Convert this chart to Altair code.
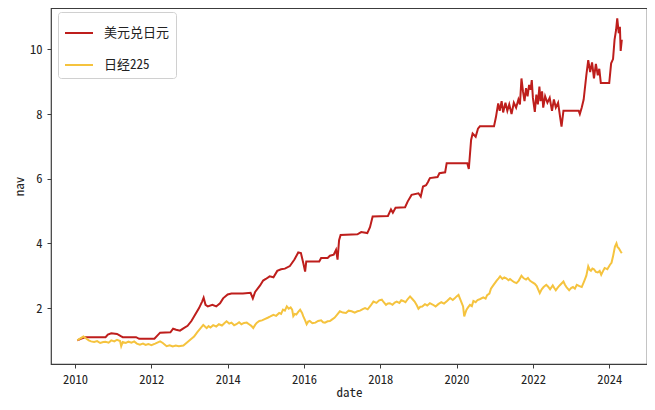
import altair as alt
import pandas as pd

series_names = ["美元兑日元", "日经225"]
colors = ["#BE1E1C", "#F5C33E"]

red_dates = [2010.06, 2010.15, 2010.28, 2010.80, 2010.86, 2010.95, 2011.10, 2011.20, 2011.25, 2011.60,
             2011.68, 2012.08, 2012.15, 2012.23, 2012.50, 2012.57, 2012.65, 2012.75, 2012.85, 2012.95,
             2013.05, 2013.15, 2013.25, 2013.33, 2013.37, 2013.42, 2013.48, 2013.60, 2013.70, 2013.80,
             2013.88, 2014.00, 2014.10, 2014.40, 2014.60, 2014.66, 2014.72, 2014.85, 2014.93, 2015.00,
             2015.10, 2015.20, 2015.30, 2015.40, 2015.50, 2015.63, 2015.75, 2015.85, 2015.92, 2015.98,
             2016.03, 2016.06, 2016.40, 2016.45, 2016.62, 2016.68, 2016.78, 2016.84, 2016.88, 2016.92,
             2016.96, 2017.40, 2017.50, 2017.66, 2017.73, 2017.80, 2018.20, 2018.28, 2018.33, 2018.40,
             2018.65, 2018.72, 2018.82, 2019.00, 2019.06, 2019.12, 2019.20, 2019.25, 2019.30, 2019.50,
             2019.55, 2019.70, 2019.74, 2020.28, 2020.32, 2020.38, 2020.42, 2020.50, 2020.56, 2020.61,
             2020.98, 2021.03, 2021.09, 2021.13, 2021.18, 2021.22, 2021.28, 2021.33, 2021.38, 2021.44,
             2021.50, 2021.56, 2021.62, 2021.66, 2021.70, 2021.74, 2021.78, 2021.82, 2021.86, 2021.90,
             2021.94, 2021.97, 2022.00, 2022.05, 2022.09, 2022.13, 2022.17, 2022.20, 2022.24, 2022.27,
             2022.32, 2022.38, 2022.44, 2022.50, 2022.55, 2022.60, 2022.66, 2022.72, 2022.75, 2022.80,
             2023.20, 2023.23, 2023.28, 2023.33, 2023.40, 2023.45, 2023.50, 2023.55, 2023.60, 2023.65,
             2023.70, 2023.74, 2023.78, 2024.00, 2024.05, 2024.10, 2024.14, 2024.18, 2024.21, 2024.25,
             2024.28, 2024.30, 2024.33]
red_values = [1.00, 1.05, 1.10, 1.10, 1.18, 1.22, 1.20, 1.13, 1.10, 1.10,
              1.05, 1.05, 1.14, 1.24, 1.25, 1.36, 1.33, 1.30, 1.38, 1.45,
              1.60, 1.80, 2.00, 2.20, 2.32, 2.10, 2.05, 2.10, 2.05, 2.15,
              2.30, 2.42, 2.45, 2.45, 2.47, 2.30, 2.50, 2.70, 2.85, 2.90,
              2.98, 2.95, 3.15, 3.20, 3.22, 3.30, 3.50, 3.72, 3.70, 3.40,
              3.13, 3.44, 3.44, 3.55, 3.55, 3.62, 3.65, 3.80, 3.50, 4.10,
              4.26, 4.28, 4.35, 4.32, 4.50, 4.83, 4.85, 5.05, 4.95, 5.10,
              5.12, 5.30, 5.50, 5.55, 5.45, 5.76, 5.80, 5.90, 6.02, 6.05,
              6.17, 6.20, 6.48, 6.48, 6.30, 7.20, 7.40, 7.30, 7.55, 7.62,
              7.62, 7.90, 8.33, 8.10, 8.40, 8.05, 8.35, 8.10, 8.30, 8.00,
              8.35, 8.20, 8.45, 8.30, 9.10, 8.70, 8.40, 8.80, 8.55, 8.90,
              8.75, 9.05, 8.50, 8.07, 8.60, 8.30, 8.85, 8.40, 8.70, 8.20,
              8.55, 8.35, 8.50, 8.10, 8.45, 8.20, 8.35, 7.85, 7.61, 8.10,
              8.10, 8.00, 8.20, 8.45, 9.20, 9.67, 9.30, 9.60, 9.10, 9.55,
              9.20, 9.40, 8.96, 8.96, 9.57, 9.70, 10.30, 10.60, 10.96, 10.50,
              10.70, 9.95, 10.30]

yellow_dates = [2010.06, 2010.12, 2010.22, 2010.30, 2010.36, 2010.42, 2010.50, 2010.58, 2010.66, 2010.74,
                2010.80, 2010.88, 2010.95, 2011.03, 2011.10, 2011.18, 2011.21, 2011.25, 2011.33, 2011.40,
                2011.48, 2011.55, 2011.62, 2011.70, 2011.78, 2011.85, 2011.92, 2012.00, 2012.10, 2012.23,
                2012.30, 2012.40, 2012.48, 2012.56, 2012.64, 2012.72, 2012.84, 2012.95, 2013.05, 2013.12,
                2013.20, 2013.27, 2013.36, 2013.41, 2013.45, 2013.50, 2013.55, 2013.62, 2013.70, 2013.77,
                2013.85, 2013.92, 2013.97, 2014.04, 2014.10, 2014.17, 2014.23, 2014.30, 2014.36, 2014.43,
                2014.50, 2014.56, 2014.62, 2014.67, 2014.72, 2014.76, 2014.83, 2014.90, 2014.97, 2015.05,
                2015.12, 2015.20, 2015.27, 2015.35, 2015.40, 2015.45, 2015.50, 2015.55, 2015.60, 2015.65,
                2015.69, 2015.72, 2015.76, 2015.80, 2015.85, 2015.90, 2015.95, 2015.98, 2016.03, 2016.07,
                2016.11, 2016.15, 2016.22, 2016.30, 2016.37, 2016.45, 2016.50, 2016.55, 2016.62, 2016.68,
                2016.74, 2016.80, 2016.87, 2016.94, 2017.02, 2017.10, 2017.17, 2017.25, 2017.33, 2017.40,
                2017.47, 2017.54, 2017.60, 2017.67, 2017.75, 2017.82, 2017.90, 2017.97, 2018.04, 2018.09,
                2018.15, 2018.20, 2018.25, 2018.32, 2018.38, 2018.43, 2018.50, 2018.55, 2018.60, 2018.66,
                2018.72, 2018.78, 2018.84, 2018.90, 2018.96, 2019.00, 2019.05, 2019.10, 2019.17, 2019.23,
                2019.30, 2019.37, 2019.45, 2019.52, 2019.60, 2019.67, 2019.75, 2019.83, 2019.90, 2019.95,
                2020.00, 2020.05, 2020.12, 2020.17, 2020.20, 2020.23, 2020.26, 2020.30, 2020.35, 2020.40,
                2020.44, 2020.50, 2020.55, 2020.62, 2020.70, 2020.76, 2020.80, 2020.86, 2020.90, 2020.96,
                2021.05, 2021.10, 2021.14, 2021.20, 2021.25, 2021.30, 2021.36, 2021.40, 2021.45, 2021.51,
                2021.57, 2021.63, 2021.70, 2021.76, 2021.82, 2021.87, 2021.92, 2021.98, 2022.05, 2022.10,
                2022.18, 2022.23, 2022.28, 2022.35, 2022.40, 2022.45, 2022.52, 2022.56, 2022.60, 2022.65,
                2022.70, 2022.75, 2022.80, 2022.84, 2022.88, 2022.95, 2023.00, 2023.05, 2023.10, 2023.15,
                2023.22, 2023.28, 2023.35, 2023.40, 2023.45, 2023.49, 2023.52, 2023.56, 2023.60, 2023.65,
                2023.70, 2023.75, 2023.79, 2023.84, 2023.88, 2023.95, 2024.02, 2024.06, 2024.10, 2024.15,
                2024.19, 2024.22, 2024.25, 2024.30, 2024.33]
yellow_values = [1.00, 1.05, 1.12, 1.05, 1.00, 0.97, 0.95, 0.98, 0.92, 0.95,
                 0.96, 0.93, 1.00, 0.97, 1.02, 0.98, 0.82, 0.95, 0.92, 0.96,
                 0.93, 0.97, 0.90, 0.87, 0.90, 0.86, 0.89, 0.85, 0.90, 0.97,
                 0.92, 0.82, 0.85, 0.81, 0.84, 0.82, 0.84, 0.95, 1.05, 1.12,
                 1.25, 1.35, 1.48, 1.42, 1.38, 1.44, 1.40, 1.47, 1.43, 1.50,
                 1.46, 1.54, 1.59, 1.52, 1.55, 1.47, 1.50, 1.56, 1.50, 1.54,
                 1.55, 1.50, 1.45, 1.38, 1.48, 1.54, 1.60, 1.62, 1.66, 1.70,
                 1.74, 1.79, 1.76, 1.85, 1.82, 1.95, 1.92, 2.05, 1.98, 2.02,
                 1.95, 1.75, 1.82, 1.80, 1.88, 1.95, 1.85, 1.75, 1.62, 1.50,
                 1.58, 1.60, 1.53, 1.55, 1.60, 1.62, 1.56, 1.55, 1.59, 1.60,
                 1.65, 1.70, 1.80, 1.90, 1.86, 1.85, 1.92, 1.90, 1.86, 1.90,
                 1.92, 1.97, 2.00, 1.96, 2.08, 2.20, 2.16, 2.24, 2.26, 2.18,
                 2.10, 2.14, 2.15, 2.10, 2.17, 2.20, 2.16, 2.24, 2.22, 2.18,
                 2.28, 2.36, 2.28, 2.20, 2.08, 1.98, 2.04, 2.05, 2.12, 2.08,
                 2.15, 2.11, 2.05, 2.12, 2.18, 2.14, 2.22, 2.31, 2.25, 2.30,
                 2.36, 2.41, 2.20, 2.05, 1.74, 1.85, 1.95, 2.02, 2.10, 2.06,
                 2.22, 2.18, 2.25, 2.28, 2.33, 2.29, 2.40, 2.45, 2.60, 2.70,
                 2.85, 2.92, 2.98, 2.90, 2.95, 2.92, 2.86, 2.90, 2.85, 2.80,
                 2.77, 2.85, 3.00, 2.92, 2.88, 2.93, 2.85, 2.80, 2.75, 2.68,
                 2.46, 2.58, 2.65, 2.72, 2.66, 2.58, 2.70, 2.62, 2.55, 2.63,
                 2.70, 2.76, 2.82, 2.72, 2.65, 2.55, 2.62, 2.65, 2.60, 2.72,
                 2.68, 2.65, 2.85, 3.00, 3.29, 3.18, 3.15, 3.22, 3.20, 3.12,
                 3.10, 3.15, 3.03, 3.15, 3.24, 3.20, 3.34, 3.40, 3.60, 3.90,
                 4.00, 3.88, 3.85, 3.75, 3.70]

x_ticks = [2010, 2012, 2014, 2016, 2018, 2020, 2022, 2024]
y_ticks = [2, 4, 6, 8, 10]

FONT = "Noto Sans Mono CJK SC, Noto Sans CJK SC, sans-serif"

red_df = pd.DataFrame({"date": red_dates, "nav": red_values, "series": series_names[0]})
yel_df = pd.DataFrame({"date": yellow_dates, "nav": yellow_values, "series": series_names[1]})

x_enc = alt.X("date:Q", scale=alt.Scale(domain=[2009.37, 2024.99], nice=False, zero=False),
              axis=alt.Axis(values=x_ticks, format="d", title="date"))
y_enc = alt.Y("nav:Q", scale=alt.Scale(domain=[0.27, 11.28], nice=False, zero=False),
              axis=alt.Axis(values=y_ticks, format="d", title="nav"))
color_enc = alt.Color("series:N",
                      scale=alt.Scale(domain=series_names, range=colors),
                      legend=alt.Legend(title=None, orient="none", legendX=7, legendY=4,
                                        direction="vertical"))

red = alt.Chart(red_df).mark_line(strokeWidth=2).encode(x=x_enc, y=y_enc, color=color_enc)
yel = alt.Chart(yel_df).mark_line(strokeWidth=2).encode(x=x_enc, y=y_enc, color=color_enc)

chart = alt.layer(red, yel).properties(
    width=596, height=356,
    autosize=alt.AutoSizeParams(type="none"),
    padding={"left": 43, "top": 0, "right": 0, "bottom": 38},
).configure_view(
    stroke="#3c3c3c", strokeWidth=1.2
).configure_axis(
    domain=False, grid=False, tickSize=4, tickColor="#3c3c3c", tickWidth=1,
    labelFont=FONT, labelFontSize=12.5, labelColor="#222222", labelPadding=5,
    titleFont=FONT, titleFontSize=13, titleFontWeight="normal", titleColor="#222222",
).configure_axisX(titlePadding=1).configure_axisY(titlePadding=3).configure_legend(
    symbolType="stroke", symbolSize=784, symbolStrokeWidth=2,
    labelFont=FONT, labelFontSize=13, labelColor="#222222", labelOffset=10,
    fillColor="white", strokeColor="#d0d0d0", cornerRadius=3, padding=6, rowPadding=10,
)

chart.save("out.html", embed_options={"renderer": "svg", "actions": False})
